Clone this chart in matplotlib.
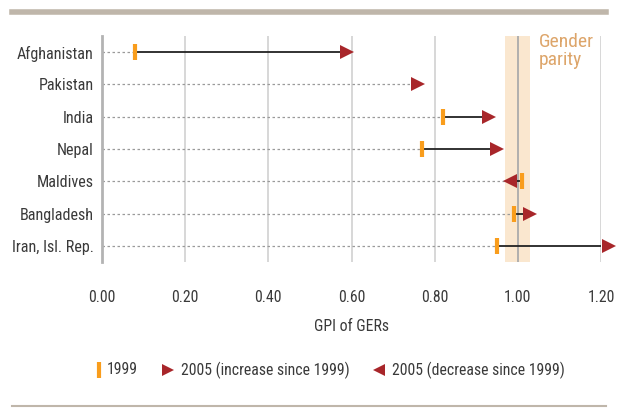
import matplotlib.pyplot as plt
from matplotlib.lines import Line2D

paises = ['Afghanistan', 'Pakistan', 'India', 'Nepal', 'Maldives',
          'Bangladesh', 'Iran, Isl. Rep.']
gpi_1999 = [0.08, None, 0.82, 0.77, 1.01, 0.99, 0.95]
gpi_2005 = [0.59, 0.76, 0.93, 0.95, 0.98, 1.03, 1.22]
ticks_x = [0.00, 0.20, 0.40, 0.60, 0.80, 1.00, 1.20]
paridad = (0.97, 1.03)

naranja = '#F99D1C'
rojo = '#A8262A'
texto = '#3A3A3A'

plt.rcParams['font.family'] = ['Roboto Condensed', 'DejaVu Sans']

fig = plt.figure(figsize=(6.2, 4.08), dpi=100)
ax = fig.add_axes([0.1645, 0.358, 0.805, 0.554])

# banda de paridad de genero
ax.axvspan(paridad[0], paridad[1], color='#FAE7CF', zorder=0, lw=0)
for t in ticks_x[1:]:
    col = '#ABABAB' if t == 1.0 else '#D4D4D4'
    ax.axvline(t, color=col, lw=1.3, zorder=1)

for i, (a, b) in enumerate(zip(gpi_1999, gpi_2005)):
    inicio = b if a is None else min(a, b)
    ax.plot([0, inicio], [i, i], ls=(0, (2, 2)), color='#9A9A9A', lw=0.9, zorder=2)
    if a is not None:
        ax.plot([a, b], [i, i], color='#222222', lw=1.3, zorder=3)
    marca = '>' if (a is None or b > a) else '<'
    ax.plot(b, i, marker=marca, ms=9.5, color=rojo, mew=0, zorder=5, clip_on=False)
    if a is not None:
        ax.plot(a, i, marker='|', ms=11.5, mew=3, color=naranja, zorder=4)

ax.set_xlim(0, 1.2)
ax.set_ylim(6.5, -0.5)
ax.set_yticks(range(len(paises)))
ax.set_yticklabels(paises, fontsize=11.6, color=texto)
ax.set_xticks(ticks_x)
ax.set_xticklabels([f'{t:.2f}' for t in ticks_x], fontsize=11.3, color=texto)
ax.tick_params(axis='y', length=0, pad=6)
ax.tick_params(axis='x', length=0, pad=20)
ax.set_xlabel('GPI of GERs', fontsize=11.3, color=texto, labelpad=10)
for s in ['top', 'right', 'bottom']:
    ax.spines[s].set_visible(False)
ax.spines['left'].set_color('#B3B3B3')
ax.spines['left'].set_linewidth(2)

ax.text(1.05, -0.6, 'Gender\nparity', fontsize=14, color='#DDA56A',
        va='top', ha='left', linespacing=1.05)

# leyenda manual
ly = 1 - 370 / 408
fig.add_artist(Line2D([98.5 / 620], [ly], marker='|', ms=11.5, mew=3, color=naranja))
fig.text(107 / 620, ly, '1999', fontsize=11.3, color=texto, va='center')
fig.add_artist(Line2D([167.5 / 620], [ly], marker='>', ms=8, mew=0, color=rojo))
fig.text(181 / 620, ly, '2005 (increase since 1999)', fontsize=11.3, color=texto, va='center')
fig.add_artist(Line2D([379 / 620], [ly], marker='<', ms=8, mew=0, color=rojo))
fig.text(392 / 620, ly, '2005 (decrease since 1999)', fontsize=11.3, color=texto, va='center')

# barras grises superior e inferior
fig.add_artist(Line2D([12 / 620, 606 / 620], [1 - 11.5 / 408] * 2, color='#BFB6AA', lw=4))
fig.add_artist(Line2D([12 / 620, 606 / 620], [1 - 406 / 408] * 2, color='#BFB6AA', lw=1.5))

fig.savefig('out.png', dpi=100)
